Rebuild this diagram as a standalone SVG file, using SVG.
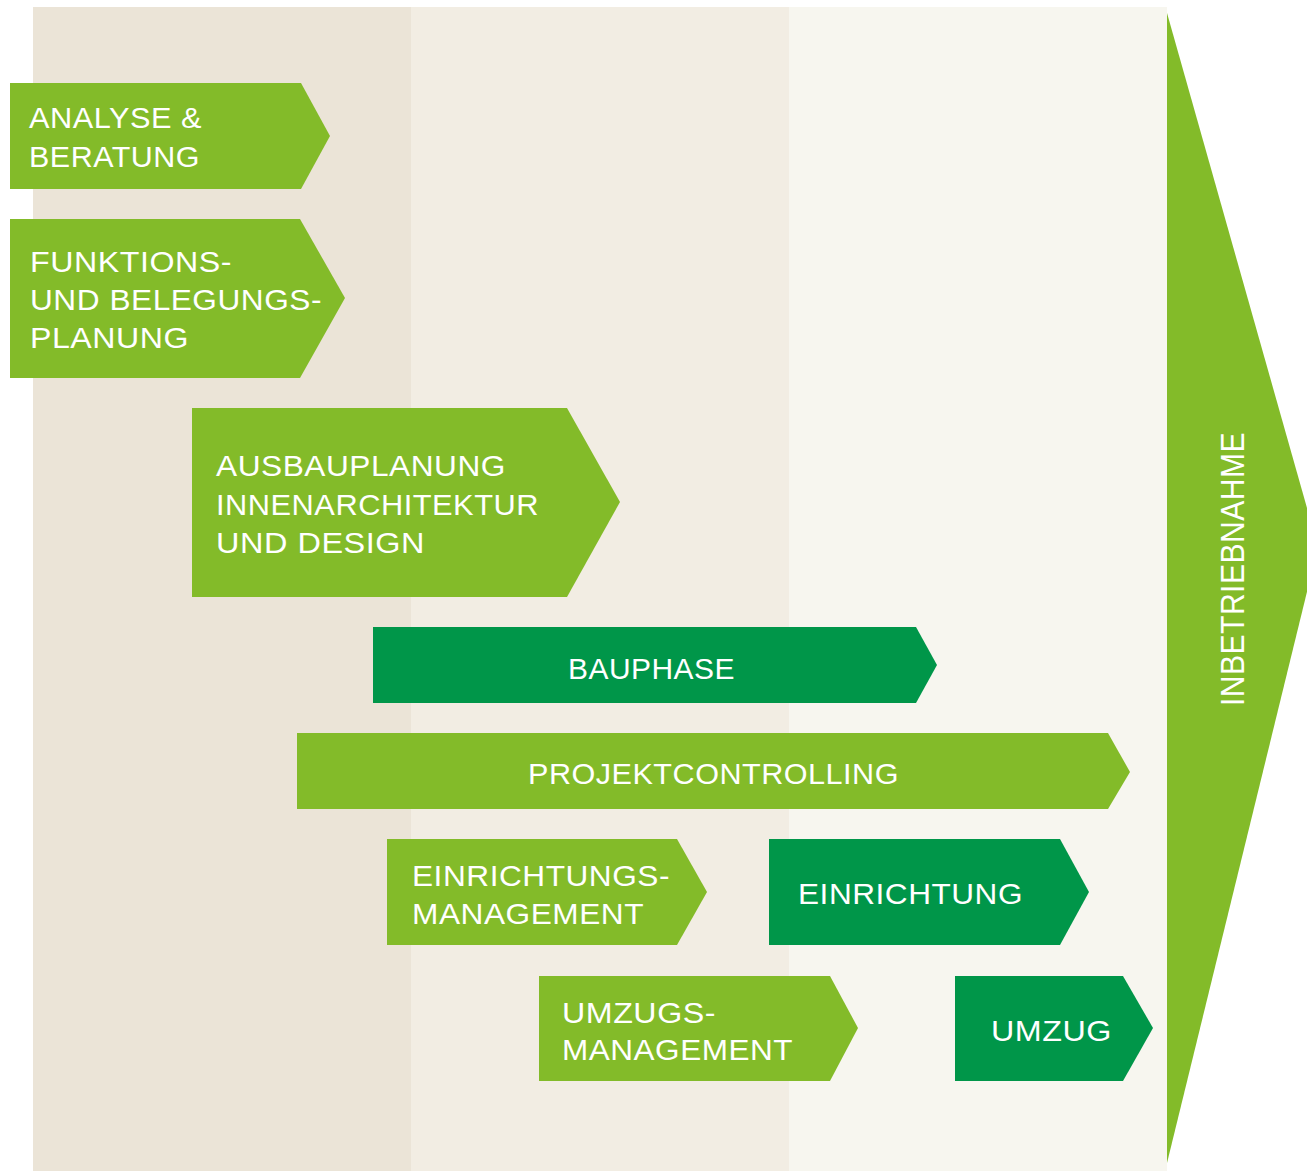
<svg xmlns="http://www.w3.org/2000/svg" width="1307" height="1171" viewBox="0 0 1307 1171">
<style>
.lg{fill:#83bb29}
.dg{fill:#009649}
.t{font-family:"Liberation Sans",Arial,sans-serif;font-size:30px;fill:#ffffff;letter-spacing:0.5px}
</style>
<rect x="0" y="0" width="1307" height="1171" fill="#ffffff"/>
<g id="background">
<rect x="33" y="7" width="378" height="1164" fill="#ebe4d7"/>
<rect x="411" y="7" width="378" height="1164" fill="#f2ede3"/>
<rect x="789" y="7" width="378" height="1164" fill="#f7f6ef"/>
</g>
<g id="connectors"></g>
<g id="inbetriebnahme">
<polygon class="lg" points="1167,13 1318,547 1167,1163"/>
<text class="t" font-size="33" style="font-size:33px" transform="translate(1244,706) rotate(-90)" textLength="274" lengthAdjust="spacingAndGlyphs">INBETRIEBNAHME</text>
</g>
<g id="analyse">
<polygon class="lg" points="10,83 301,83 330,136 301,189 10,189"/>
<text class="t" x="29" y="128" textLength="173" lengthAdjust="spacingAndGlyphs">ANALYSE &amp;</text>
<text class="t" x="29" y="167" textLength="171" lengthAdjust="spacingAndGlyphs">BERATUNG</text>
</g>
<g id="funktions">
<polygon class="lg" points="10,219 300,219 345,298 300,378 10,378"/>
<text class="t" x="30" y="272" textLength="202" lengthAdjust="spacingAndGlyphs">FUNKTIONS-</text>
<text class="t" x="30" y="310" textLength="292" lengthAdjust="spacingAndGlyphs">UND BELEGUNGS-</text>
<text class="t" x="30" y="348" textLength="159" lengthAdjust="spacingAndGlyphs">PLANUNG</text>
</g>
<g id="ausbau">
<polygon class="lg" points="192,408 567,408 620,502 567,597 192,597"/>
<text class="t" x="216" y="476" textLength="290" lengthAdjust="spacingAndGlyphs">AUSBAUPLANUNG</text>
<text class="t" x="216" y="515" textLength="323" lengthAdjust="spacingAndGlyphs">INNENARCHITEKTUR</text>
<text class="t" x="216" y="553" textLength="209" lengthAdjust="spacingAndGlyphs">UND DESIGN</text>
</g>
<g id="bauphase">
<polygon class="dg" points="373,627 916,627 937,665 916,703 373,703"/>
<text class="t" x="568" y="679" textLength="167" lengthAdjust="spacingAndGlyphs">BAUPHASE</text>
</g>
<g id="projektcontrolling">
<polygon class="lg" points="297,733 1108,733 1130,772 1108,809 297,809"/>
<text class="t" x="528" y="784" textLength="371" lengthAdjust="spacingAndGlyphs">PROJEKTCONTROLLING</text>
</g>
<g id="einrichtungsmanagement">
<polygon class="lg" points="387,839 677,839 707,892 677,945 387,945"/>
<text class="t" x="412" y="886" textLength="258" lengthAdjust="spacingAndGlyphs">EINRICHTUNGS-</text>
<text class="t" x="412" y="924" textLength="232" lengthAdjust="spacingAndGlyphs">MANAGEMENT</text>
</g>
<g id="einrichtung">
<polygon class="dg" points="769,839 1060,839 1089,892 1060,945 769,945"/>
<text class="t" x="798" y="904" textLength="225" lengthAdjust="spacingAndGlyphs">EINRICHTUNG</text>
</g>
<g id="umzugsmanagement">
<polygon class="lg" points="539,976 830,976 858,1028 830,1081 539,1081"/>
<text class="t" x="562" y="1023" textLength="154" lengthAdjust="spacingAndGlyphs">UMZUGS-</text>
<text class="t" x="562" y="1060" textLength="231" lengthAdjust="spacingAndGlyphs">MANAGEMENT</text>
</g>
<g id="umzug">
<polygon class="dg" points="955,976 1123,976 1153,1028 1123,1081 955,1081"/>
<text class="t" x="991" y="1041" textLength="121" lengthAdjust="spacingAndGlyphs">UMZUG</text>
</g>
</svg>
